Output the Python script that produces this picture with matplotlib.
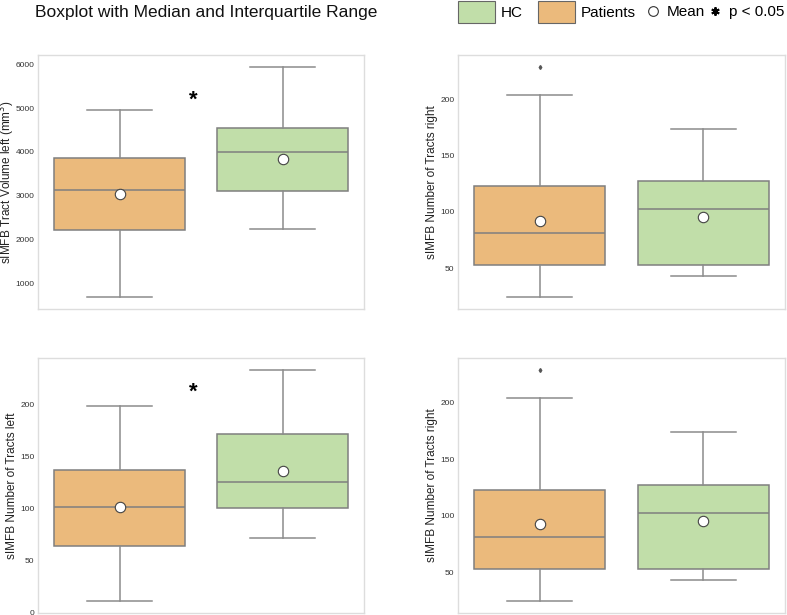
import matplotlib
matplotlib.use('Agg')
import matplotlib.pyplot as plt
from matplotlib.patches import Patch
from matplotlib.lines import Line2D

plt.rcParams['font.family'] = ['Liberation Sans', 'DejaVu Sans']

groups = ['Patients', 'HC']
colors = {'Patients': '#ebba7c', 'HC': '#c1dea9'}

# box statistics: whislo, q1, median, q3, whishi, mean
vol_left = {'Patients': [680, 2224, 3123, 3868, 4950, 3032],
            'HC': [2233, 3114, 3991, 4546, 5945, 3845]}
tracts_left = {'Patients': [11.2, 64.4, 101.5, 136.5, 198, 101.5],
               'HC': [71.2, 100, 125.3, 171.7, 232.7, 135.6]}
tracts_right = {'Patients': [24.3, 53.2, 81.3, 122.8, 203.8, 92.2],
                'HC': [43.2, 52.9, 102.4, 127.2, 173.7, 95.5]}
fliers_right = {'Patients': [228.9], 'HC': []}
no_fliers = {'Patients': [], 'HC': []}

sig_vol_left = 5276
sig_tracts_left = 215.4

W, H = 787, 615
fig = plt.figure(figsize=(W / 100, H / 100), dpi=100)


def box_panel(rect, stats, fliers, ylabel, ylim, yticks, label_x, star=None):
    ax = fig.add_axes([rect[0] / W, 1 - rect[3] / H, (rect[2] - rect[0]) / W, (rect[3] - rect[1]) / H])
    bxp_stats = []
    for g in groups:
        lo, q1, med, q3, hi, mean = stats[g]
        bxp_stats.append(dict(whislo=lo, q1=q1, med=med, q3=q3, whishi=hi,
                              mean=mean, fliers=fliers[g], label=g))
    bp = ax.bxp(bxp_stats, positions=[0, 1], widths=0.8, patch_artist=True,
                showmeans=True, showfliers=True,
                boxprops=dict(edgecolor='#7f7f7f', linewidth=1.1),
                medianprops=dict(color='#7f7f7f', linewidth=1.1),
                whiskerprops=dict(color='#8c8c8c', linewidth=1.1),
                capprops=dict(color='#8c8c8c', linewidth=1.1),
                meanprops=dict(marker='o', markerfacecolor='white',
                               markeredgecolor='#444444', markersize=7.5,
                               markeredgewidth=0.8),
                flierprops=dict(marker='d', markerfacecolor='#555555',
                                markeredgecolor='#555555', markersize=2))
    for patch, g in zip(bp['boxes'], groups):
        patch.set_facecolor(colors[g])
    ax.set_xlim(-0.5, 1.5)
    ax.set_ylim(*ylim)
    ax.set_yticks(yticks)
    ax.set_xticks([])
    ax.tick_params(axis='y', length=0, labelsize=6, labelcolor='#333333', pad=2.5)
    ax.set_ylabel(ylabel, fontsize=8.5, color='#222222', va='center')
    # label centre, in pixels, converted to axes fraction
    ax.yaxis.set_label_coords((label_x - rect[0]) / (rect[2] - rect[0]), 0.5)
    for s in ax.spines.values():
        s.set_color('#dddddd')
        s.set_linewidth(1.0)
    if star is not None:
        ax.annotate('*', (0.45, star), xytext=(0, -3), textcoords='offset points',
                    ha='center', va='center', fontsize=16,
                    fontweight='bold', color='black')
    return ax


box_panel((38, 55, 364, 309), vol_left, no_fliers,
          'sIMFB Tract Volume left (mm$^3$)', (413, 6212),
          [1000, 2000, 3000, 4000, 5000, 6000], 7, star=sig_vol_left)
box_panel((458, 55, 785, 309), tracts_right, fliers_right,
          'sIMFB Number of Tracts right', (13.9, 239.3), [50, 100, 150, 200], 432)
box_panel((38, 358, 364, 613), tracts_left, no_fliers,
          'sIMFB Number of Tracts left', (-0.4, 244.5), [0, 50, 100, 150, 200], 12,
          star=sig_tracts_left)
box_panel((458, 358, 785, 613), tracts_right, fliers_right,
          'sIMFB Number of Tracts right', (13.9, 239.3), [50, 100, 150, 200], 432)

fig.text(35 / W, 1 - 13 / H, 'Boxplot with Median and Interquartile Range',
         fontsize=12.5, ha='left', va='center', color='#111111')

patch_handles = [Patch(facecolor=colors['HC'], edgecolor='#666666', linewidth=0.8),
                 Patch(facecolor=colors['Patients'], edgecolor='#666666', linewidth=0.8)]
fig.legend(patch_handles, ['HC', 'Patients'], loc='center left',
           bbox_to_anchor=(458 / W, 1 - 12 / H), ncol=2, frameon=False,
           fontsize=11, handlelength=2.4, handleheight=1.8,
           handletextpad=0.4, columnspacing=1.0, borderpad=0.0,
           borderaxespad=0)
marker_handles = [Line2D([], [], linestyle='none', marker='o', markerfacecolor='white',
                         markeredgecolor='#333333', markersize=7, markeredgewidth=0.8),
                  Line2D([], [], linestyle='none', marker=(6, 2, 0), color='black',
                         markersize=6, markeredgewidth=1.4)]
fig.legend(marker_handles, ['Mean', 'p < 0.05'], loc='center left',
           bbox_to_anchor=(645 / W, 1 - 12 / H), ncol=2, frameon=False,
           fontsize=11, handlelength=1.0, handletextpad=0.4,
           columnspacing=0.2, borderpad=0.0, borderaxespad=0)

fig.savefig('out.png', dpi=100)
